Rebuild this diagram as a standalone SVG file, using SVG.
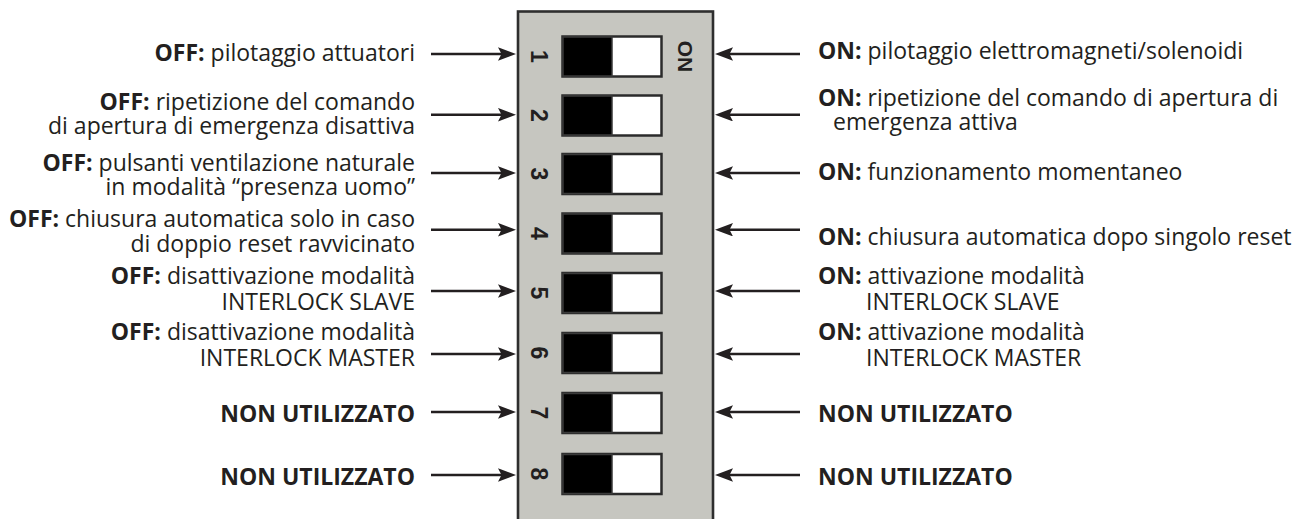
<svg xmlns="http://www.w3.org/2000/svg" width="1309" height="519" viewBox="0 0 1309 519">
<style>
.t{font-family:"Open Sans","DejaVu Sans",sans-serif;font-size:23px;fill:#231f20}
.b{font-weight:700}
.l{text-anchor:end}
.num{font-family:"Liberation Sans",Arial,sans-serif;font-weight:700;font-size:23px;fill:#231f20;text-anchor:middle}
.on{font-family:"Liberation Sans",Arial,sans-serif;font-weight:700;font-size:21px;fill:#231f20;text-anchor:middle}
.sw{fill:#fff;stroke:#2b2b2b;stroke-width:2.5}
.blk{fill:#000;stroke:#3a3a3a;stroke-width:1.5}
.ar{stroke:#231f20;stroke-width:2.6;fill:none;marker-end:url(#ah)}
</style>
<defs>
<marker id="ah" markerUnits="userSpaceOnUse" markerWidth="20" markerHeight="14" refX="12" refY="6.75" orient="auto">
<path d="M0,0 L18,6.75 L0,13.5 L3.5,6.75 z" fill="#231f20"/>
</marker>
</defs>
<rect width="1309" height="519" fill="#fff"/>
<g id="panel">
<rect x="518" y="11.5" width="195" height="520" fill="#c6c6c0" stroke="#2e2e2e" stroke-width="2.6"/>
<text class="on" transform="translate(678 56.5) rotate(90)">ON</text>
</g>
<g id="switch1"><rect class="sw" x="562.5" y="36.5" width="99" height="40"/><rect class="blk" x="563" y="37" width="49" height="39"/><text class="num" transform="translate(531 56.5) rotate(90)">1</text></g>
<g id="switch2"><rect class="sw" x="562.5" y="95.5" width="99" height="40"/><rect class="blk" x="563" y="96" width="49" height="39"/><text class="num" transform="translate(531 115.5) rotate(90)">2</text></g>
<g id="switch3"><rect class="sw" x="562.5" y="154" width="99" height="40"/><rect class="blk" x="563" y="154.5" width="49" height="39"/><text class="num" transform="translate(531 174) rotate(90)">3</text></g>
<g id="switch4"><rect class="sw" x="562.5" y="213.5" width="99" height="40"/><rect class="blk" x="563" y="214" width="49" height="39"/><text class="num" transform="translate(531 233.5) rotate(90)">4</text></g>
<g id="switch5"><rect class="sw" x="562.5" y="273" width="99" height="40"/><rect class="blk" x="563" y="273.5" width="49" height="39"/><text class="num" transform="translate(531 293) rotate(90)">5</text></g>
<g id="switch6"><rect class="sw" x="562.5" y="333" width="99" height="40"/><rect class="blk" x="563" y="333.5" width="49" height="39"/><text class="num" transform="translate(531 353) rotate(90)">6</text></g>
<g id="switch7"><rect class="sw" x="562.5" y="393" width="99" height="40"/><rect class="blk" x="563" y="393.5" width="49" height="39"/><text class="num" transform="translate(531 413) rotate(90)">7</text></g>
<g id="switch8"><rect class="sw" x="562.5" y="454" width="99" height="40"/><rect class="blk" x="563" y="454.5" width="49" height="39"/><text class="num" transform="translate(531 474) rotate(90)">8</text></g>
<g id="connectors">
<line class="ar" x1="431" y1="54" x2="510" y2="54"/>
<line class="ar" x1="431" y1="114.7" x2="510" y2="114.7"/>
<line class="ar" x1="431" y1="173" x2="510" y2="173"/>
<line class="ar" x1="431" y1="229.7" x2="510" y2="229.7"/>
<line class="ar" x1="431" y1="291" x2="510" y2="291"/>
<line class="ar" x1="431" y1="354" x2="510" y2="354"/>
<line class="ar" x1="431" y1="412" x2="510" y2="412"/>
<line class="ar" x1="431" y1="475" x2="510" y2="475"/>
<line class="ar" x1="800" y1="54" x2="721" y2="54"/>
<line class="ar" x1="800" y1="114.7" x2="721" y2="114.7"/>
<line class="ar" x1="800" y1="173" x2="721" y2="173"/>
<line class="ar" x1="800" y1="229.7" x2="721" y2="229.7"/>
<line class="ar" x1="800" y1="291" x2="721" y2="291"/>
<line class="ar" x1="800" y1="354" x2="721" y2="354"/>
<line class="ar" x1="800" y1="412" x2="721" y2="412"/>
<line class="ar" x1="800" y1="475" x2="721" y2="475"/>
</g>
<g id="labels-off">
<text class="t l" x="415" y="61"><tspan class="b">OFF:</tspan> pilotaggio attuatori</text>
<text class="t l" x="415" y="110"><tspan class="b">OFF:</tspan> ripetizione del comando</text>
<text class="t l" x="415" y="134">di apertura di emergenza disattiva</text>
<text class="t l" x="415" y="171"><tspan class="b">OFF:</tspan> pulsanti ventilazione naturale</text>
<text class="t l" x="415" y="195">in modalità “presenza uomo”</text>
<text class="t l" x="415" y="227"><tspan class="b">OFF:</tspan> chiusura automatica solo in caso</text>
<text class="t l" x="415" y="252">di doppio reset ravvicinato</text>
<text class="t l" x="415" y="284"><tspan class="b">OFF:</tspan> disattivazione modalità</text>
<text class="t l" x="415" y="310">INTERLOCK SLAVE</text>
<text class="t l" x="415" y="340"><tspan class="b">OFF:</tspan> disattivazione modalità</text>
<text class="t l" x="415" y="366">INTERLOCK MASTER</text>
<text class="t l b" x="415" y="422">NON UTILIZZATO</text>
<text class="t l b" x="415" y="485">NON UTILIZZATO</text>
</g>
<g id="labels-on">
<text class="t" x="818" y="59"><tspan class="b">ON:</tspan> pilotaggio elettromagneti/solenoidi</text>
<text class="t" x="818" y="106"><tspan class="b">ON:</tspan> ripetizione del comando di apertura di</text>
<text class="t" x="833" y="130">emergenza attiva</text>
<text class="t" x="818" y="180"><tspan class="b">ON:</tspan> funzionamento momentaneo</text>
<text class="t" x="818" y="245"><tspan class="b">ON:</tspan> chiusura automatica dopo singolo reset</text>
<text class="t" x="818" y="284"><tspan class="b">ON:</tspan> attivazione modalità</text>
<text class="t" x="866" y="310">INTERLOCK SLAVE</text>
<text class="t" x="818" y="340"><tspan class="b">ON:</tspan> attivazione modalità</text>
<text class="t" x="866" y="366">INTERLOCK MASTER</text>
<text class="t b" x="818" y="422">NON UTILIZZATO</text>
<text class="t b" x="818" y="485">NON UTILIZZATO</text>
</g>
</svg>
